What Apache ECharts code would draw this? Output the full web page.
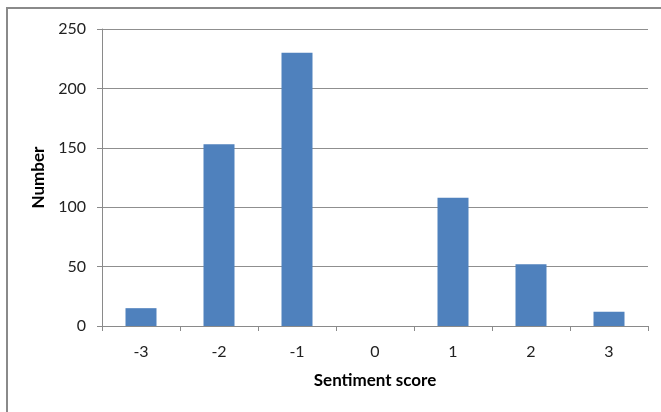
<!DOCTYPE html>
<html>
<head>
<meta charset="utf-8">
<script src="https://cdn.jsdelivr.net/npm/echarts@6/dist/echarts.min.js"></script>
<style>
  html, body { margin: 0; padding: 0; background: #fff; }
  #chart { width: 661px; height: 412px; }
</style>
</head>
<body>
<div id="chart"></div>
<script>
const scores = ["-3", "-2", "-1", "0", "1", "2", "3"];
const counts = [15, 153, 230, 0, 108, 52, 12];
const yTicks = { min: 0, max: 250, interval: 50 };

const chart = echarts.init(document.getElementById("chart"));
chart.setOption({
  animation: false,
  textStyle: { fontFamily: "Lato" },
  grid: { left: 102, right: 13, top: 29, bottom: 86 },
  graphic: [
    {
      type: "rect",
      shape: { x: 7, y: 8, width: 720, height: 480 },
      style: { fill: "none", stroke: "#8a8a8a", lineWidth: 2 },
      silent: true
    }
  ],
  xAxis: {
    type: "category",
    data: scores,
    name: "Sentiment score",
    nameLocation: "middle",
    nameGap: 46,
    nameTextStyle: { fontFamily: "Lato", fontWeight: "bold", fontSize: 17, color: "#000" },
    axisLine: { lineStyle: { color: "#8a8a8a", width: 1 } },
    axisTick: { show: true, length: 5, alignWithLabel: false, lineStyle: { color: "#8a8a8a" } },
    axisLabel: { fontSize: 16, color: "#222", margin: 18 }
  },
  yAxis: {
    type: "value",
    min: yTicks.min,
    max: yTicks.max,
    interval: yTicks.interval,
    name: "Number",
    nameLocation: "middle",
    nameGap: 50,
    nameTextStyle: { fontFamily: "Lato", fontWeight: "bold", fontSize: 17, color: "#000" },
    axisLine: { show: true, lineStyle: { color: "#8a8a8a", width: 1 } },
    axisTick: { show: true, length: 5, lineStyle: { color: "#8a8a8a" } },
    axisLabel: { fontSize: 16, color: "#222", margin: 16 },
    splitLine: { lineStyle: { color: "#8f8f8f", width: 1 } }
  },
  series: [
    {
      type: "bar",
      data: counts,
      barWidth: 31,
      itemStyle: { color: "#4f81bd" }
    }
  ]
});
</script>
</body>
</html>
